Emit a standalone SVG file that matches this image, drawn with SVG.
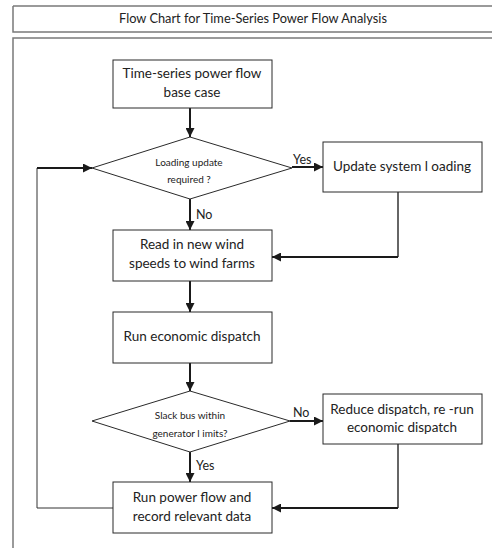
<svg xmlns="http://www.w3.org/2000/svg" width="492" height="548" viewBox="0 0 492 548">
<defs>
<marker id="ah" viewBox="0 0 10 10" refX="10" refY="5" markerWidth="4.5" markerHeight="4.5" markerUnits="strokeWidth" orient="auto">
<path d="M0,0 L10,5 L0,10 z" fill="#1a1a1a"/>
</marker>
<style>
.frame{fill:none;stroke:#7a7a7a;stroke-width:1.5}
.box{fill:#fff;stroke:#2a2a2a;stroke-width:1}
.t{font-family:Lato,"Liberation Sans",sans-serif;font-size:13.5px;fill:#222;text-anchor:middle}
.ts{font-family:Lato,"Liberation Sans",sans-serif;font-size:10px;fill:#222;text-anchor:middle}
.lbl{font-family:Lato,"Liberation Sans",sans-serif;font-size:12.5px;fill:#222}
.title{font-family:Lato,"Liberation Sans",sans-serif;font-size:12.8px;fill:#222;text-anchor:middle}
.a{fill:none;stroke:#1a1a1a;stroke-width:2}
.thin{fill:none;stroke:#333;stroke-width:1}
</style>
</defs>
<rect width="492" height="548" fill="#fff"/>
<g id="frame">
<path class="frame" d="M13,6 H493 M13,6 V32 H493"/>
<path class="frame" d="M13,549 V38 H493"/>
<text class="title" x="253" y="23">Flow Chart for Time-Series Power Flow Analysis</text>
</g>
<g id="connectors">
<line class="a" x1="190" y1="108" x2="190" y2="137" marker-end="url(#ah)"/>
<line class="a" x1="292" y1="167" x2="323" y2="167" marker-end="url(#ah)"/>
<line class="a" x1="190" y1="199" x2="190" y2="230" marker-end="url(#ah)"/>
<path class="thin" d="M398,192 V257" style="stroke-width:1.5"/>
<line class="a" x1="398" y1="257" x2="272" y2="257" marker-end="url(#ah)"/>
<line class="a" x1="190" y1="281" x2="190" y2="312" marker-end="url(#ah)"/>
<line class="a" x1="190" y1="363" x2="190" y2="391" marker-end="url(#ah)"/>
<line class="a" x1="290" y1="421" x2="323" y2="421" marker-end="url(#ah)"/>
<line class="a" x1="190" y1="452" x2="190" y2="482" marker-end="url(#ah)"/>
<path class="thin" d="M398,444 V508" style="stroke-width:1.5"/>
<line class="a" x1="398" y1="508" x2="272" y2="508" marker-end="url(#ah)"/>
<path class="thin" d="M113,508 H37 V168"/>
<line class="a" x1="37" y1="168" x2="92" y2="168" marker-end="url(#ah)"/>
<text class="lbl" x="293" y="164">Yes</text>
<text class="lbl" x="196" y="219">No</text>
<text class="lbl" x="293" y="417">No</text>
<text class="lbl" x="196" y="470">Yes</text>
</g>
<g id="n1">
<rect class="box" x="113" y="60" width="159" height="48"/>
<text class="t" x="192" y="78">Time-series power flow</text>
<text class="t" x="192" y="97">base case</text>
</g>
<g id="d1">
<polygon class="box" points="190,137 292,168 190,199 92,168"/>
<text class="ts" x="189" y="166">Loading update</text>
<text class="ts" x="189" y="183">required ?</text>
</g>
<g id="n2">
<rect class="box" x="323" y="142" width="159" height="50"/>
<text class="t" x="402" y="171">Update system l oading</text>
</g>
<g id="n3">
<rect class="box" x="113" y="230" width="159" height="51"/>
<text class="t" x="192" y="249">Read in new wind</text>
<text class="t" x="192" y="268">speeds to wind farms</text>
</g>
<g id="n4">
<rect class="box" x="113" y="312" width="159" height="51"/>
<text class="t" x="192" y="341">Run economic dispatch</text>
</g>
<g id="d2">
<polygon class="box" points="190,391 290,421 190,452 92,421"/>
<text class="ts" x="190" y="419">Slack bus within</text>
<text class="ts" x="190" y="437">generator l imits?</text>
</g>
<g id="n5">
<rect class="box" x="323" y="394" width="159" height="50"/>
<text class="t" x="402" y="414">Reduce dispatch, re -run</text>
<text class="t" x="402" y="432">economic dispatch</text>
</g>
<g id="n6">
<rect class="box" x="113" y="482" width="159" height="51"/>
<text class="t" x="192" y="502">Run power flow and</text>
<text class="t" x="192" y="521">record relevant data</text>
</g>
</svg>
